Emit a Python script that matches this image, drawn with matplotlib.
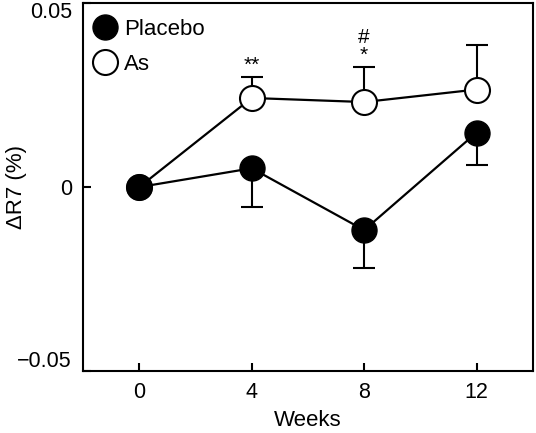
import matplotlib
matplotlib.use("Agg")
import matplotlib.pyplot as plt
import matplotlib.transforms as mtransforms

plt.rcParams['font.family'] = ['Liberation Sans', 'DejaVu Sans']

weeks = [0, 4, 8, 12]
placebo = [0.0, 0.0051, -0.0117, 0.0148]
placebo_err = [0.0, 0.0106, 0.0103, 0.0087]
as_vals = [0.0, 0.0242, 0.0231, 0.0265]
as_err = [0.0, 0.0056, 0.0094, 0.0121]
marks = {4: ["**"], 8: ["*", "#"]}

fig = plt.figure(figsize=(5.36, 4.33), dpi=100)
ax = fig.add_axes([0.155, 0.143, 0.839, 0.85])

# one-sided error bars: placebo down, As up
ax.errorbar(weeks, placebo, yerr=[placebo_err, [0] * 4], fmt='none',
            ecolor='black', elinewidth=1.5, capsize=8, capthick=1.5, zorder=1)
ax.errorbar(weeks, as_vals, yerr=[[0] * 4, as_err], fmt='none',
            ecolor='black', elinewidth=1.5, capsize=8, capthick=1.5, zorder=1)
ax.plot(weeks, as_vals, '-o', color='black', lw=1.6, ms=18,
        mfc='white', mec='black', mew=1.5, label='As', zorder=2)
ax.plot(weeks, placebo, '-o', color='black', lw=1.6, ms=18,
        mfc='black', mec='black', label='Placebo', zorder=3)

for i, w in enumerate(weeks):
    if w in marks:
        top = as_vals[i] + as_err[i]
        ax.text(w, top + 0.0008, marks[w][0], ha='center', va='bottom', fontsize=15)
        if len(marks[w]) > 1:
            ax.text(w, top + 0.0056, marks[w][1], ha='center', va='bottom', fontsize=15)

ax.set_xlim(-2, 14)
ax.set_ylim(-0.05, 0.05)
ax.set_xticks(weeks)
ax.set_yticks([-0.05, 0, 0.05])
ax.set_yticklabels(['\u22120.05', '0', '0.05'])
ax.tick_params(direction='in', length=6, width=1.5, labelsize=15.5)
ax.tick_params(axis='x', pad=8)
ax.tick_params(axis='y', pad=8)
# end labels sit inside the axis span, as in the original
ylabs = ax.get_yticklabels()
ylabs[0].set_transform(ylabs[0].get_transform() +
                       mtransforms.ScaledTranslation(0, 12 / 100, fig.dpi_scale_trans))
ylabs[2].set_transform(ylabs[2].get_transform() +
                       mtransforms.ScaledTranslation(0, -7 / 100, fig.dpi_scale_trans))
for s in ax.spines.values():
    s.set_linewidth(1.5)
ax.set_xlabel('Weeks', fontsize=16, labelpad=5)
ax.set_ylabel('\u0394R7 (%)', fontsize=16)
ax.yaxis.set_label_coords(-0.125, 0.5)

h, l = ax.get_legend_handles_labels()
ax.legend(h[::-1], l[::-1], loc='upper left', frameon=False, fontsize=16,
          handlelength=0.6, handletextpad=0.55, borderaxespad=0.3,
          labelspacing=0.65, borderpad=0.4)

fig.savefig('out.png', dpi=100)
